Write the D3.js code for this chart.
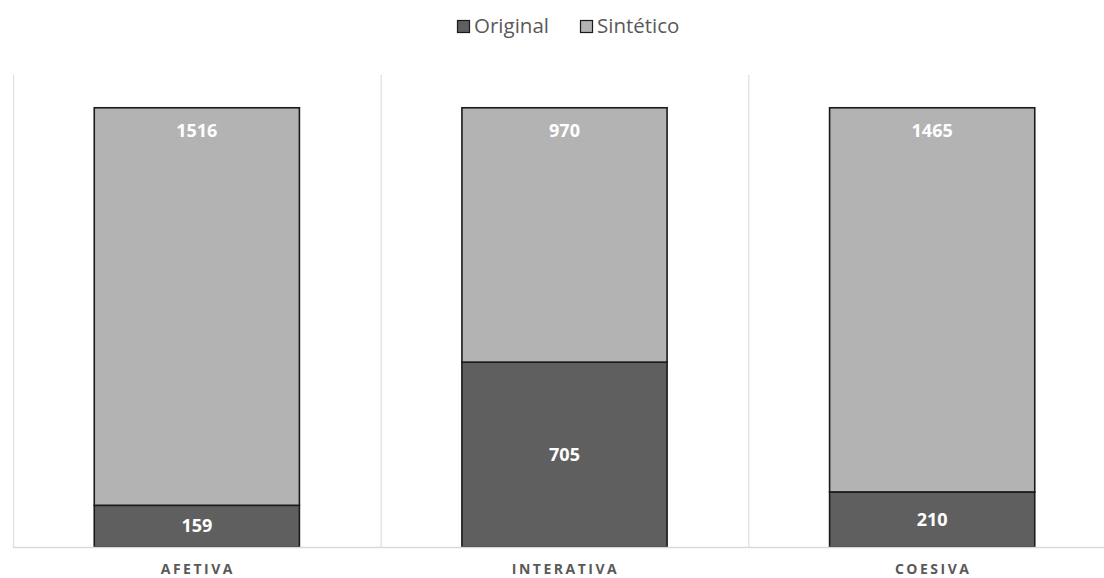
<!DOCTYPE html>
<html>
<head>
<meta charset="utf-8">
<script src="https://cdn.jsdelivr.net/npm/d3@7"></script>
<style>
  html, body { margin: 0; padding: 0; background: #fff; }
  svg { display: block; }
</style>
</head>
<body>
<svg id="chart" width="1104" height="578"></svg>
<script>
// Categories and stacked series
const categories = ["AFETIVA", "INTERATIVA", "COESIVA"];
const original = [159, 705, 210];
const sintetico = [1516, 970, 1465];
const seriesNames = ["Original", "Sintético"];
const seriesColors = ["#5f5f5f", "#b3b3b3"];

const svg = d3.select("#chart");
const W = 1104, H = 578;
const margin = { left: 13, right: -12, top: 75, bottom: 31 };
const x0 = margin.left, x1 = W - margin.right;
const yTop = margin.top, yBottom = H - margin.bottom;

const data = categories.map((c, i) => ({ cat: c, Original: original[i], "Sintético": sintetico[i] }));
const stacked = d3.stack().keys(seriesNames)(data);

const x = d3.scaleBand().domain(categories).range([x0, x1]).paddingInner(0).paddingOuter(0);
const y = d3.scaleLinear().domain([0, 1800]).range([yBottom, yTop]);
const barW = x.bandwidth() * 0.558;

// Vertical separators between categories
const seps = categories.map(c => x(c)).concat([x1]);
svg.append("g").selectAll("line").data(seps).join("line")
  .attr("x1", d => d + 0.5).attr("x2", d => d + 0.5)
  .attr("y1", yTop).attr("y2", yBottom)
  .attr("stroke", "#dedede").attr("stroke-width", 1.2);

// Bars
const layers = svg.append("g").selectAll("g").data(stacked).join("g")
  .attr("fill", (d, i) => seriesColors[i]);
layers.selectAll("rect").data(d => d).join("rect")
  .attr("x", d => x(d.data.cat) + (x.bandwidth() - barW) / 2)
  .attr("width", barW)
  .attr("y", d => y(d[1]))
  .attr("height", d => y(d[0]) - y(d[1]))
  .attr("stroke", "#1a1a1a").attr("stroke-width", 1.6);

// Category axis line
svg.append("line")
  .attr("x1", x0).attr("x2", x1)
  .attr("y1", yBottom + 0.5).attr("y2", yBottom + 0.5)
  .attr("stroke", "#d9d9d9").attr("stroke-width", 1.3);

// Data labels
const labelFont = "'Open Sans', 'Liberation Sans', sans-serif";
stacked.forEach((layer, li) => {
  svg.append("g").selectAll("text").data(layer).join("text")
    .attr("x", d => x(d.data.cat) + x.bandwidth() / 2)
    .attr("y", d => li === 0 ? (y(d[0]) + y(d[1])) / 2 : y(d[1]) + 22.5)
    .attr("dy", "0.35em")
    .attr("text-anchor", "middle")
    .attr("fill", "#ffffff")
    .attr("font-family", labelFont)
    .attr("font-weight", "bold")
    .attr("font-size", "18px")
    .text(d => d[1] - d[0]);
});

// Category labels
svg.append("g").selectAll("text").data(categories).join("text")
  .attr("x", d => x(d) + x.bandwidth() / 2 + 1)
  .attr("y", 574)
  .attr("text-anchor", "middle")
  .attr("fill", "#595959")
  .attr("font-family", labelFont)
  .attr("font-weight", "bold")
  .attr("font-size", "14px")
  .attr("letter-spacing", "2.5px")
  .text(d => d);

// Legend
const legend = svg.append("g").attr("font-family", labelFont).attr("font-size", "20.5px").attr("fill", "#595959");
const legendItems = [{ x: 457, name: seriesNames[0], color: seriesColors[0] }, { x: 580, name: seriesNames[1], color: seriesColors[1] }];
legendItems.forEach(it => {
  legend.append("rect").attr("x", it.x + 0.5).attr("y", 20.5).attr("width", 12).attr("height", 12)
    .attr("fill", it.color).attr("stroke", "#1a1a1a").attr("stroke-width", 1.2);
  legend.append("text").attr("x", it.x + 17).attr("y", 33).text(it.name);
});
</script>
</body>
</html>
